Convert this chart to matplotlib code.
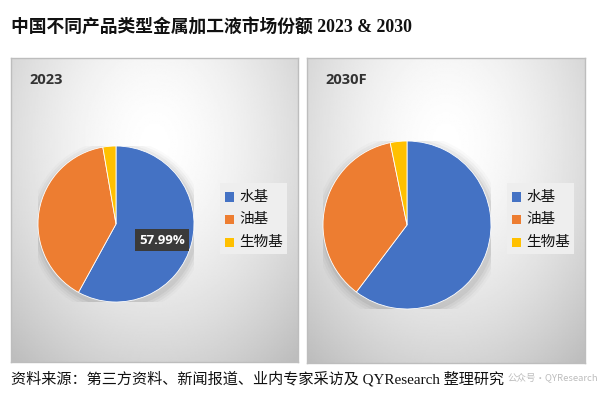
import numpy as np
import matplotlib.pyplot as plt
from matplotlib.patches import Rectangle

# market share of metalworking fluid types in China
categories = ['水基', '油基', '生物基']
share_2023 = [57.99, 39.31, 2.70]
share_2030 = [60.3, 36.5, 3.2]
panel_titles = ['2023', '2030F']
colors = ['#4472C4', '#ED7D31', '#FFC000']

W, H = 601, 399
cjk = ['Noto Sans CJK SC', 'DejaVu Sans']
serif_cjk = ['Liberation Serif', 'Noto Sans CJK SC']

fig = plt.figure(figsize=(W / 100, H / 100), dpi=100)
fig.patch.set_facecolor('white')


def px_axes(x0, y0, x1, y1, **kw):
    # axes from pixel box (top-left origin)
    return fig.add_axes([x0 / W, 1 - y1 / H, (x1 - x0) / W, (y1 - y0) / H], **kw)


def panel_bg(x0, y0, x1, y1):
    ax = px_axes(x0, y0, x1, y1)
    ny, nx = 200, 200
    yy, xx = np.mgrid[0:1:ny * 1j, 0:1:nx * 1j]
    d = np.sqrt(((xx - 0.5) / 0.75) ** 2 + ((yy - 0.28) / 0.95) ** 2)
    v = 1.0 - 0.26 * np.clip(d, 0, 1) ** 1.6
    ax.imshow(v, cmap='gray', vmin=0, vmax=1, extent=[0, 1, 1, 0], aspect='auto')
    ax.set_xlim(0, 1)
    ax.set_ylim(1, 0)
    ax.set_xticks([])
    ax.set_yticks([])
    for s in ax.spines.values():
        s.set_color('#BDBDBD')
        s.set_linewidth(1.0)
    return ax


def draw_pie(values, cx, cy, r):
    ax = px_axes(cx - r, cy - r, cx + r, cy + r)
    ax.set_facecolor('none')
    # soft shadow
    for k, a in enumerate([0.05, 0.04, 0.03, 0.02]):
        ax.add_patch(plt.Circle((0.02, -0.04), 1.0 + 0.03 * (k + 1), color='black',
                                alpha=a, lw=0, zorder=0))
    wedges, _ = ax.pie(values, colors=colors, startangle=90, counterclock=False,
                       radius=1.0, wedgeprops=dict(linewidth=0.6, edgecolor='white'))
    for w in wedges:
        w.set_zorder(2)
    ax.set_xlim(-1, 1)
    ax.set_ylim(-1, 1)
    ax.set_aspect('equal')
    ax.axis('off')
    return ax


def draw_legend(x0, y0, x1, y1):
    fig.patches.append(Rectangle((x0 / W, 1 - y1 / H), (x1 - x0) / W, (y1 - y0) / H,
                                 transform=fig.transFigure, facecolor='#EEEEEE',
                                 edgecolor='none', zorder=3))
    for i, (lab, c) in enumerate(zip(categories, colors)):
        yc = y0 + 14 + i * 22.5
        fig.patches.append(Rectangle(((x0 + 5) / W, 1 - (yc + 4.5) / H), 9 / W, 9 / H,
                                     transform=fig.transFigure, facecolor=c,
                                     edgecolor='none', zorder=4))
        fig.text((x0 + 19) / W, 1 - yc / H, lab, fontsize=10.5, family=cjk,
                 va='center', ha='left', color='#111111', zorder=5)


panels = [
    (11, 58, 298, 362, share_2023, (116, 224, 78), (220, 183, 287, 254)),
    (307, 58, 585, 363, share_2030, (407, 225, 84), (507, 183, 574, 254)),
]

for (x0, y0, x1, y1, vals, (cx, cy, r), leg), title in zip(panels, panel_titles):
    panel_bg(x0, y0, x1, y1)
    draw_pie(vals, cx, cy, r)
    draw_legend(*leg)
    fig.text((x0 + 18) / W, 1 - 80 / H, title, fontsize=10.5, fontweight='bold',
             family=['Open Sans', 'DejaVu Sans'], color='#333333', va='center', ha='left')

# data label on the 2023 water-based slice
fig.text(162 / W, 1 - 240 / H, '{:.2f}%'.format(share_2023[0]), fontsize=9.5,
         fontweight='bold', color='white', ha='center', va='center',
         family=['Open Sans', 'DejaVu Sans'], zorder=6,
         bbox=dict(boxstyle='square,pad=0.35', facecolor='#3A3A3A', edgecolor='none'))

fig.text(11 / W, 1 - 27 / H, '中国不同产品类型金属加工液市场份额 2023 & 2030', fontsize=12.8,
         fontweight='bold', family=serif_cjk, color='#111111', va='center', ha='left')

fig.text(11 / W, 1 - 379 / H, '资料来源：第三方资料、新闻报道、业内专家采访及 QYResearch 整理研究',
         fontsize=10.9, family=serif_cjk, color='#111111', va='center', ha='left', zorder=2)
fig.text(598 / W, 1 - 377 / H, '公众号·QYResearch', fontsize=6.8, family=cjk,
         color='#BDBDBD', va='center', ha='right', zorder=1)

fig.savefig('out.png', dpi=100, facecolor='white')
